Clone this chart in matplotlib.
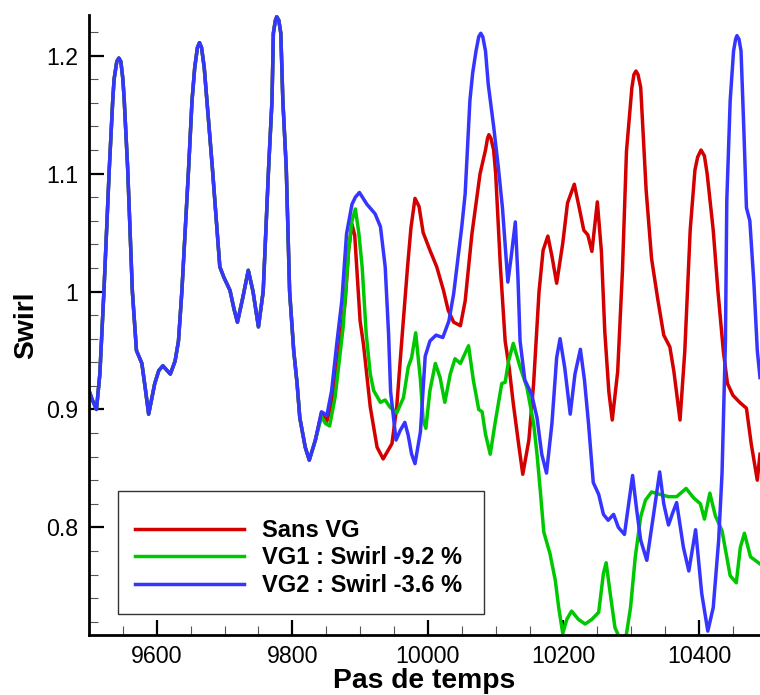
import matplotlib
matplotlib.use("Agg")
import matplotlib.pyplot as plt
from matplotlib.ticker import MultipleLocator
from matplotlib.patches import Rectangle

# ---- data ----
T_COMMON = [9500, 9505, 9511, 9516, 9522, 9530, 9535, 9537, 9541, 9544, 9547, 9550, 9552, 9557, 9564, 9570,
            9578, 9583, 9588, 9597, 9603, 9609, 9620, 9627, 9632, 9637, 9647, 9652, 9656, 9660, 9663,
            9666, 9670, 9674, 9682, 9693, 9699, 9708, 9714, 9719, 9727, 9735, 9742, 9750, 9757, 9765,
            9770, 9772, 9775, 9777, 9780, 9783, 9786, 9791, 9796, 9802, 9807, 9811, 9819, 9825, 9834]
V_COMMON = [0.916, 0.908, 0.900, 0.930, 1.000, 1.105, 1.162, 1.180, 1.195, 1.198, 1.195, 1.180, 1.162, 1.105, 1.000, 0.950,
            0.939, 0.918, 0.896, 0.922, 0.933, 0.937, 0.930, 0.941, 0.958, 1.000, 1.105, 1.162, 1.190, 1.207, 1.211,
            1.207, 1.190, 1.162, 1.105, 1.021, 1.012, 1.001, 0.985, 0.974, 0.995, 1.018, 1.000, 0.970, 1.000, 1.105,
            1.162, 1.219, 1.230, 1.233, 1.230, 1.219, 1.162, 1.105, 1.000, 0.950, 0.922, 0.893, 0.868, 0.857, 0.874]

T_RED = [9843, 9851, 9858, 9866, 9872, 9878, 9883, 9888, 9892, 9895, 9900, 9905, 9915, 9925, 9934,
         9947, 9954, 9961, 9970, 9975, 9981, 9987, 9993, 10003, 10013, 10023, 10030, 10038, 10048,
         10055, 10065, 10077, 10085, 10088, 10090, 10093, 10097, 10100, 10107, 10114, 10120, 10126, 10134, 10140,
         10149, 10156, 10164, 10170, 10177, 10183, 10190, 10199, 10206, 10216, 10224, 10230, 10236,
         10242, 10246, 10250, 10256, 10261, 10267, 10272, 10280, 10287, 10293, 10301, 10304, 10307, 10310, 10314,
         10322, 10330, 10339, 10348, 10357, 10363, 10372, 10379, 10387, 10394, 10398, 10403, 10408, 10412, 10421,
         10428, 10436, 10442, 10450, 10460, 10470, 10477, 10486, 10490]
V_RED = [0.897, 0.890, 0.905, 0.935, 0.965, 0.992, 1.035, 1.057, 1.048, 1.021, 0.975, 0.955, 0.902, 0.868, 0.858,
         0.871, 0.902, 0.955, 1.021, 1.054, 1.079, 1.072, 1.050, 1.035, 1.021, 1.001, 0.984, 0.974, 0.971,
         0.992, 1.049, 1.100, 1.120, 1.130, 1.133, 1.130, 1.120, 1.100, 1.021, 0.958, 0.935, 0.905, 0.870, 0.845,
         0.874, 0.922, 1.000, 1.035, 1.047, 1.030, 1.007, 1.041, 1.075, 1.091, 1.069, 1.052, 1.048,
         1.034, 1.055, 1.076, 1.034, 0.966, 0.915, 0.891, 0.932, 1.017, 1.119, 1.173, 1.184, 1.187, 1.184, 1.173,
         1.086, 1.028, 0.994, 0.963, 0.953, 0.932, 0.891, 0.949, 1.052, 1.103, 1.114, 1.120, 1.115, 1.100, 1.052,
         1.000, 0.949, 0.922, 0.912, 0.906, 0.901, 0.871, 0.840, 0.862]

T_GREEN = [9843, 9849, 9855, 9863, 9870, 9875, 9883, 9888, 9893, 9898, 9903, 9909, 9915, 9920, 9930,
           9937, 9944, 9954, 9964, 9971, 9976, 9982, 9989, 9993, 9997, 10003, 10011, 10018, 10025,
           10033, 10040, 10048, 10060, 10067, 10075, 10080, 10085, 10092, 10099, 10109, 10114, 10119,
           10126, 10136, 10146, 10156, 10161, 10166, 10171, 10180, 10188, 10193, 10199, 10205, 10212,
           10222, 10232, 10242, 10252, 10259, 10263, 10269, 10276, 10283, 10292, 10299, 10306, 10314,
           10321, 10330, 10342, 10355, 10367, 10381, 10392, 10402, 10408, 10416, 10424, 10434, 10441,
           10446, 10455, 10461, 10467, 10476, 10483, 10490]
V_GREEN = [0.894, 0.888, 0.886, 0.910, 0.945, 0.970, 1.035, 1.060, 1.070, 1.050, 1.021, 0.964, 0.930, 0.916, 0.906,
           0.908, 0.902, 0.897, 0.910, 0.936, 0.944, 0.965, 0.925, 0.891, 0.884, 0.916, 0.939, 0.927, 0.906,
           0.930, 0.943, 0.939, 0.954, 0.925, 0.900, 0.898, 0.879, 0.862, 0.888, 0.922, 0.923, 0.941,
           0.956, 0.936, 0.919, 0.888, 0.862, 0.830, 0.796, 0.778, 0.755, 0.732, 0.710, 0.722, 0.729,
           0.722, 0.718, 0.722, 0.728, 0.761, 0.770, 0.744, 0.715, 0.706, 0.706, 0.732, 0.775, 0.809,
           0.823, 0.830, 0.828, 0.826, 0.826, 0.833, 0.825, 0.820, 0.807, 0.829, 0.810, 0.797, 0.775,
           0.759, 0.753, 0.783, 0.795, 0.775, 0.772, 0.769]

T_BLUE = [9843, 9851, 9858, 9866, 9873, 9880, 9888, 9893, 9899, 9910, 9922, 9930, 9937, 9942, 9945,
          9953, 9959, 9966, 9971, 9976, 9981, 9989, 9996, 10003, 10012, 10022, 10031, 10038, 10050,
          10055, 10062, 10066, 10071, 10075, 10078, 10081, 10085, 10089, 10097, 10104, 10110, 10118, 10123, 10129, 10133,
          10136, 10143, 10153, 10161, 10168, 10175, 10183, 10190, 10195, 10202, 10210, 10217, 10225,
          10231, 10237, 10244, 10252, 10259, 10266, 10274, 10281, 10290, 10297, 10302, 10308, 10314,
          10323, 10333, 10342, 10348, 10355, 10361, 10367, 10377, 10385, 10395, 10404, 10413, 10421,
          10429, 10434, 10439, 10441, 10446, 10451, 10454, 10456, 10459, 10462, 10466, 10470, 10475, 10481, 10486, 10490]
V_BLUE = [0.898, 0.895, 0.916, 0.958, 0.992, 1.049, 1.074, 1.080, 1.084, 1.074, 1.066, 1.055, 1.021, 0.964, 0.915,
          0.874, 0.882, 0.889, 0.878, 0.862, 0.854, 0.881, 0.945, 0.958, 0.963, 0.961, 0.975, 0.998, 1.055,
          1.083, 1.162, 1.185, 1.204, 1.216, 1.219, 1.216, 1.204, 1.176, 1.140, 1.105, 1.071, 1.008, 1.030, 1.059, 1.010,
          0.958, 0.925, 0.913, 0.893, 0.862, 0.846, 0.888, 0.944, 0.960, 0.935, 0.896, 0.930, 0.951,
          0.925, 0.888, 0.838, 0.828, 0.811, 0.806, 0.811, 0.800, 0.794, 0.823, 0.844, 0.815, 0.789,
          0.772, 0.811, 0.847, 0.820, 0.802, 0.812, 0.821, 0.783, 0.763, 0.798, 0.744, 0.712, 0.732,
          0.789, 0.846, 0.958, 1.077, 1.162, 1.204, 1.214, 1.217, 1.214, 1.204, 1.140, 1.071, 1.060, 1.007, 0.950, 0.927]

LABELS = ["Sans VG", "VG1 : Swirl -9.2 %", "VG2 : Swirl -3.6 %"]
COLORS = ["#d40000", "#00c800", "#3535ff"]
X_LABEL = "Pas de temps"
Y_LABEL = "Swirl"
X_TICKS = [9600, 9800, 10000, 10200, 10400]
Y_TICKS = [0.8, 0.9, 1.0, 1.1, 1.2]
Y_TICK_LABELS = ["0.8", "0.9", "1", "1.1", "1.2"]

plt.rcParams["font.family"] = ["Liberation Sans", "DejaVu Sans"]

fig = plt.figure(figsize=(7.6, 6.95), dpi=100)
ax = fig.add_axes([89 / 760, 1 - 635 / 695, 671 / 760, 620 / 695])

series = [(T_COMMON + T_RED, V_COMMON + V_RED),
          (T_COMMON + T_GREEN, V_COMMON + V_GREEN),
          (T_COMMON + T_BLUE, V_COMMON + V_BLUE)]
lines = []
for (t, v), c, lab in zip(series, COLORS, LABELS):
    ln, = ax.plot(t, v, color=c, lw=2.5, label=lab, solid_joinstyle="round")
    lines.append(ln)

ax.set_xlim(9500, 10490)
ax.set_ylim(0.7087, 1.2345)
ax.spines["top"].set_visible(False)
ax.spines["right"].set_visible(False)
for s in ("left", "bottom"):
    ax.spines[s].set_linewidth(2.0)

ax.set_xticks(X_TICKS)
ax.set_yticks(Y_TICKS)
ax.set_yticklabels(Y_TICK_LABELS)
ax.xaxis.set_minor_locator(MultipleLocator(50))
ax.yaxis.set_minor_locator(MultipleLocator(0.02))
ax.tick_params(which="major", direction="in", length=10.5, width=1.6, labelsize=16.7, pad=7)
ax.tick_params(which="minor", direction="in", length=6.5, width=0.8, color="#555555")
ax.tick_params(axis="y", which="major", pad=8)

ax.set_xlabel(X_LABEL, fontsize=20.3, fontweight="bold", labelpad=0)
ax.set_ylabel(Y_LABEL, fontsize=20.3, fontweight="bold", labelpad=5)

# legend frame
ax.add_patch(Rectangle((29 / 671, 21 / 620), 366 / 671, 123 / 620, transform=ax.transAxes,
                       facecolor="white", edgecolor="#333333", lw=1.0, zorder=5))
leg = ax.legend(handles=lines, loc="center left", bbox_to_anchor=((135 - 89) / 671, (635 - 558) / 620),
                frameon=False, handlelength=4.6, handletextpad=0.8,
                borderpad=0, borderaxespad=0, labelspacing=0.2, prop={"weight": "bold", "size": 17})
leg.set_zorder(6)

fig.savefig("out.png", dpi=100)
